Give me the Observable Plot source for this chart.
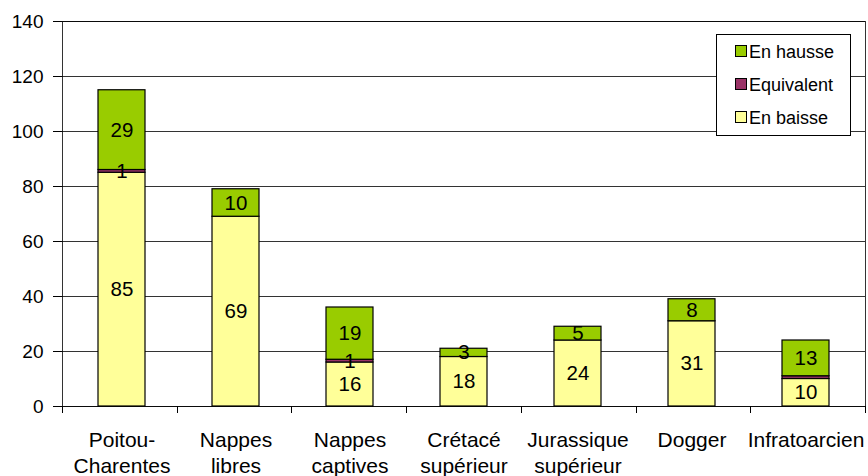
<!DOCTYPE html>
<html><head><meta charset="utf-8">
<script src="https://cdn.jsdelivr.net/npm/d3@7"></script>
<script src="https://cdn.jsdelivr.net/npm/@observablehq/plot@0.6"></script>
<style>
body{margin:0;background:#fff;}
#chart{width:868px;height:476px;}
svg{font-family:"Liberation Sans",Arial,sans-serif;}
</style>
</head><body><div id="chart"></div>
<script>
const categories = ["Poitou-Charentes","Nappes libres","Nappes captives","Crétacé supérieur","Jurassique supérieur","Dogger","Infratoarcien"];
const categoryLabels = ["Poitou-\nCharentes","Nappes\nlibres","Nappes\ncaptives","Crétacé\nsupérieur","Jurassique\nsupérieur","Dogger","Infratoarcien"];
const series = ["En baisse","Equivalent","En hausse"];
const enBaisse = [85,69,16,18,24,31,10];
const equivalent = [1,0,1,0,0,0,1];
const enHausse = [29,10,19,3,5,8,13];
const enBaisseLabels = ["85","69","16","18","24","31","10"];
const equivalentLabels = ["1","","1","","","",""];
const enHausseLabels = ["29","10","19","3","5","8","13"];
const colors = ["#FFFF99","#993366","#99CC00"];
const yTicks = [0,20,40,60,80,100,120,140];
const legendOrder = ["En hausse","Equivalent","En baisse"];

const values = [enBaisse, equivalent, enHausse];
const labels = [enBaisseLabels, equivalentLabels, enHausseLabels];
const data = [];
categories.forEach((c, i) => {
  series.forEach((s, j) => {
    data.push({category: c, series: s, value: values[j][i], label: labels[j][i]});
  });
});

function boundaryTicks(index, scales, vals, dims) {
  const g = d3.create("svg:g");
  const x0 = dims.marginLeft, x1 = dims.width - dims.marginRight;
  const n = categories.length, step = (x1 - x0) / n;
  const yb = dims.height - dims.marginBottom;
  for (let i = 0; i <= n; i++) {
    const x = Math.round(x0 + i * step) + 0.5;
    g.append("line").attr("x1", x).attr("x2", x).attr("y1", yb).attr("y2", yb + 7)
      .attr("stroke", "#000").attr("stroke-width", 1);
  }
  return g.node();
}

function legend(index, scales, vals, dims) {
  const g = d3.create("svg:g").attr("text-anchor", "start");
  const bx = dims.width - dims.marginRight - 149, by = dims.marginTop + 13;
  const bw = 134, bh = 101;
  g.append("rect").attr("x", bx + 0.5).attr("y", by + 0.5).attr("width", bw).attr("height", bh)
    .attr("fill", "#fff").attr("stroke", "#000").attr("stroke-width", 1);
  legendOrder.forEach((s, k) => {
    const cy = by + 17 + k * 33;
    const col = scales.color(s);
    g.append("rect").attr("x", bx + 19.5).attr("y", cy - 5.5).attr("width", 11).attr("height", 11)
      .attr("fill", col).attr("stroke", "#000").attr("stroke-width", 1);
    g.append("text").attr("x", bx + 33).attr("y", cy + 0.5).attr("dy", "0.35em")
      .attr("text-anchor", "start").attr("font-size", 18).attr("fill", "#000").text(s);
  });
  return g.node();
}

const chart = Plot.plot({
  width: 868,
  height: 476,
  marginLeft: 62,
  marginRight: 3,
  marginTop: 21,
  marginBottom: 70,
  style: {fontFamily: "'Liberation Sans', Arial, sans-serif", background: "#fff", overflow: "visible"},
  x: {domain: categories, paddingInner: 0.59, paddingOuter: 0.295, align: 0.5, axis: null},
  y: {domain: [0, 140], axis: null},
  color: {domain: series, range: colors},
  marks: [
    Plot.ruleY(yTicks, {stroke: "#000", strokeOpacity: 0.8, shapeRendering: "crispEdges"}),
    Plot.frame({stroke: "#000", strokeOpacity: 0.8, shapeRendering: "crispEdges"}),
    Plot.barY(data, {x: "category", y: "value", fill: "series", order: series, stroke: "#000", strokeWidth: 1.2}),
    Plot.text(data, Plot.stackY({x: "category", y: "value", z: "series", order: series, text: "label", fontSize: 20.5, fill: "#000"})),
    Plot.axisY(yTicks, {label: null, tickSize: 9, tickPadding: 10, fontSize: 19, stroke: "#000", tickFormat: d => String(d), color: "#000"}),
    Plot.text(categories, {x: d => d, y: 0, text: (d, i) => categoryLabels[i], lineAnchor: "top", dy: 23, fontSize: 21, lineHeight: 1.2, fill: "#000"}),
    boundaryTicks,
    legend
  ]
});
document.getElementById("chart").appendChild(chart);
</script>
</body></html>
